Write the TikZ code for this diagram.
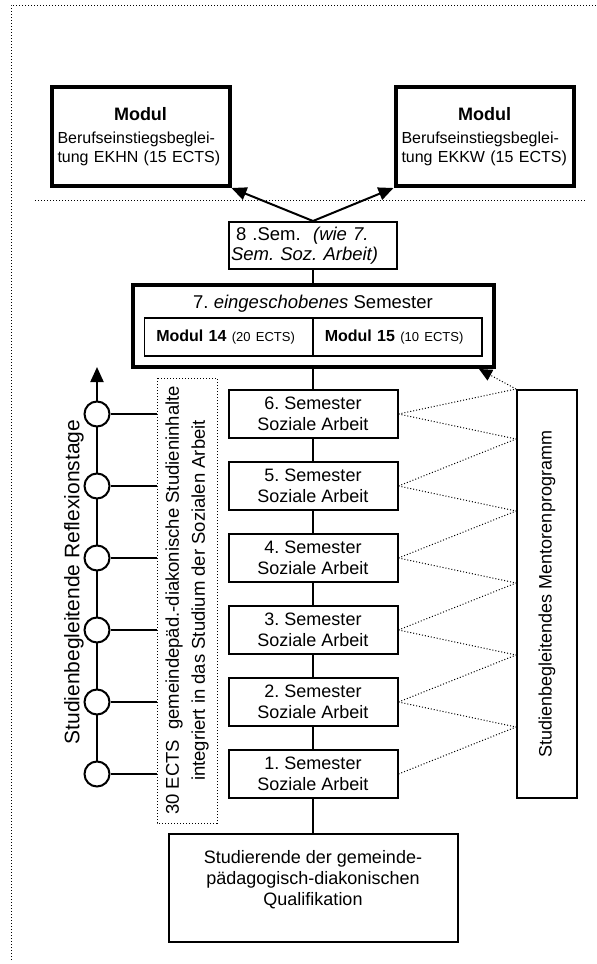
\documentclass[tikz,border=0pt]{standalone}
\usepackage{fontspec}
\setmainfont{Liberation Sans}
\usetikzlibrary{arrows.meta,backgrounds}
\frenchspacing

\begin{document}
\begin{tikzpicture}[x=0.5pt,y=-0.5pt,
    box/.style={draw,line width=1pt,fill=white,align=center,inner sep=0pt,font=\fontsize{9}{10.5}\selectfont},
    semester/.style={box,minimum width=84.5pt,minimum height=24pt},
    thickbox/.style={draw,line width=2pt,fill=white,inner sep=0pt},
    modbox/.style={thickbox,text width=83pt,inner xsep=3pt,minimum height=49.5pt,font=\fontsize{8}{9.5}\selectfont},
    modrow/.style={draw,line width=0.75pt,fill=white,minimum height=19pt,text width=72.5pt,inner xsep=6pt,align=left,font=\fontsize{8}{9.5}\selectfont},
    ring/.style={circle,draw,line width=1pt,fill=white,minimum size=12.5pt,inner sep=0pt},
    dots/.style={line width=0.5pt,dash pattern=on 0.5pt off 1pt},
    link/.style={line width=1pt},
    tip/.style={-{Triangle[length=7.5pt,width=6.5pt]}}]

    \useasboundingbox (0,0) rectangle (596,964);
    \draw[dots] (11,960) -- (11,5) -- (596,5);
    \draw[dots] (35,200) -- (585,200);

    % Module oben
    \node[modbox] (modl) at (140.5,136.5) {{\centering\fontsize{9}{11}\selectfont\bfseries Modul\par}\vspace{2pt}Berufseinstiegsbeglei-\\tung EKHN (15 ECTS)};
    \node[modbox] (modr) at (484.5,136.5) {{\centering\fontsize{9}{11}\selectfont\bfseries Modul\par}\vspace{2pt}Berufseinstiegsbeglei-\\tung EKKW (15 ECTS)};

    \node[box,align=left,text width=82pt,inner xsep=1pt,minimum height=23.5pt,font=\fontsize{9.25}{10}\selectfont] (s8) at (313,245.5)
        {\hspace{2.5pt}8 .Sem.\ \ \textit{(wie 7.}\\\textit{Sem. Soz. Arbeit)}};

    % 7. Semester
    \node[thickbox,minimum width=180.5pt,minimum height=41pt] (sem7) at (313,326) {};
    \node[font=\fontsize{9.25}{11}\selectfont,inner sep=0pt] (title) at (313,304) {7. \textit{eingeschobenes} Semester};
    \node[modrow] (m14) at (228.75,337) {\textbf{Modul 14} {\fontsize{6.5}{8}\selectfont(20 ECTS)}};
    \node[modrow] (m15) at (397.25,337) {\textbf{Modul 15} {\fontsize{6.5}{8}\selectfont(10 ECTS)}};
    \coordinate (mtip) at (sem7.south -| 479,0);

    \foreach \n/\y in {6/414,5/486,4/558,3/630,2/702,1/774}
    {
        \node[semester] (s\n) at (313,\y) {\n. Semester\\Soziale Arbeit};
        \node[ring] (r\n) at (97,\y) {};
    }

    \node[box,minimum width=144.5pt,minimum height=54pt,text depth=10pt] (base) at (313,888)
        {Studierende der gemeinde-\\pädagogisch-diakonischen\\Qualifikation};

    % links
    \node[draw,dots,rotate=90,minimum width=222.5pt,minimum height=30pt,inner sep=0pt,align=center,font=\fontsize{9.25}{13}\selectfont] (ects) at (187,600.5)
        {30 ECTS\ \ gemeindepäd.-diakonische Studieninhalte\\integriert in das Studium der Sozialen Arbeit};
    \node[rotate=90,inner sep=0pt,font=\fontsize{10.5}{12}\selectfont] (refl) at (74,582) {Studienbegleitende Reflexionstage};
    \coordinate (rtop) at (97,367);

    % rechts
    \node[box,rotate=90,minimum width=204pt,minimum height=30pt] (mentor) at (547,594) {Studienbegleitendes Mentorenprogramm};

    \begin{scope}[on background layer]
        \draw[link,tip] (s8.north) -- (modl.south east);
        \draw[link,tip] (s8.north) -- (modr.south west);
        \draw[link] (s8) -- (sem7);
        \draw[link] (sem7) -- (s6);
        \foreach \a/\b in {6/5,5/4,4/3,3/2,2/1}
            \draw[link] (s\a) -- (s\b);
        \draw[link] (s1) -- (base);
        \draw[link,tip] (r1.north) -- (rtop);
        \foreach \n in {1,...,6}
            \draw[link] (r\n) -- (r\n -| ects.north);
        \foreach \n in {2,...,6}
            \draw[dots] (s\n.east) -- (mentor.north |- s\n.south);
        \foreach \a/\b in {1/2,2/3,3/4,4/5,5/6}
            \draw[dots] (s\a.east) -- (mentor.north |- s\b.south);
        \draw[dots] (s6.east) -- (mentor.north |- s6.north);
        \draw[dots,-{Triangle[length=6.5pt,width=6pt]}] (mentor.north |- s6.north) -- (mtip);
    \end{scope}
\end{tikzpicture}
\end{document}
